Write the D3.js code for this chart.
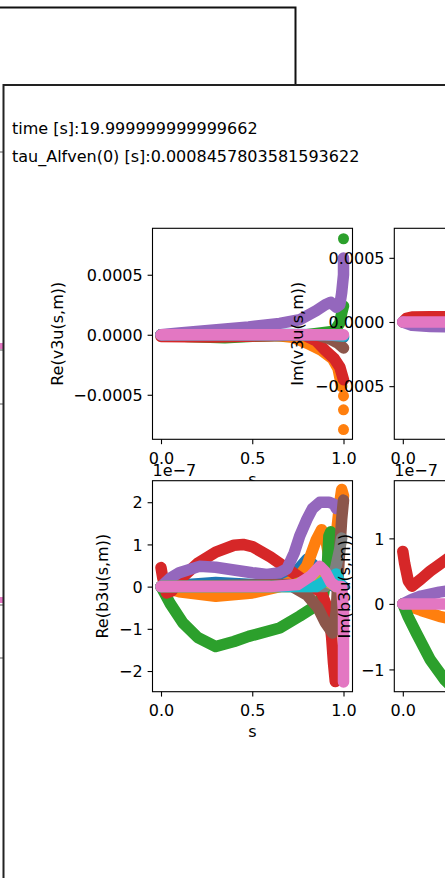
<!DOCTYPE html>
<html lang="en">
<head>
<meta charset="UTF-8">
<title>v3u / b3u mode profiles</title>
<style>
  body { margin: 0; background: #fff; overflow: hidden; }
  svg text { font-family: "DejaVu Sans", sans-serif; font-size: 16px; fill: #000; }
</style>
</head>
<body>
<div id="chart"></div>
<script src="https://d3js.org/d3.v7.min.js"></script>
<script>
// header lines of the figure
var timeText = "time [s]:19.999999999999662";
var tauText = "tau_Alfven(0) [s]:0.0008457803581593622";

// tick values
var sTicks = [0, 0.5, 1];
var v3uTicks = [-0.0005, 0, 0.0005];
var reB3uTicks = [-2, -1, 0, 1, 2];
var imB3uTicks = [-1, 0, 1];

// Re(v3u(s,m)), values in units of 1e-4 ; m = mode index (tab10 colour)
var reV3u = [
  {m: 0, pts: [[0, 0], [0.5, 0.05], [0.9, 0], [1, -0.2]]},
  {m: 1, pts: [[0, 0], [0.6, 0], [0.72, -0.2], [0.8, -0.7], [0.88, -1.3], [0.94, -2.0], [0.97, -2.8], [0.99, -4.3]],
         tail: [[1, -5.1], [1, -6.25], [1, -7.9]]},
  {m: 2, pts: [[0, 0], [0.15, -0.15], [0.35, -0.25], [0.5, -0.12], [0.8, 0], [0.95, 0.3], [0.98, 1.0], [0.99, 1.8], [1, 2.4]],
         tail: [[1, 8.0]]},
  {m: 3, pts: [[0, -0.15], [0.3, -0.18], [0.6, -0.08], [0.78, 0], [0.85, -0.5], [0.9, -1.3], [0.95, -2.0], [0.98, -2.7], [1, -3.75]]},
  {m: 4, pts: [[0, 0], [0.1, 0.15], [0.21, 0.3], [0.48, 0.65], [0.65, 0.95], [0.76, 1.25], [0.85, 2.0], [0.9, 2.5], [0.93, 2.7],
               [0.96, 2.3], [0.98, 2.5], [0.99, 3.5], [1, 5.0], [1, 6.4]]},
  {m: 5, pts: [[0, 0], [0.85, 0], [0.92, -0.3], [0.97, -0.7], [1, -1.1]]},
  {m: 9, pts: [[0, 0], [0.9, 0], [1, -0.1]]},
  {m: 6, pts: [[0, 0], [0.5, 0], [1, 0]]}
];

// Im(v3u(s,m)), units of 1e-4 (only the left part is on screen)
var imV3u = [
  {m: 3, pts: [[0, 0], [0.02, 0.28], [0.05, 0.38], [0.15, 0.4], [0.3, 0.42]]},
  {m: 4, pts: [[0, 0], [0.05, -0.25], [0.15, -0.35], [0.3, -0.4]]},
  {m: 6, pts: [[0, 0], [0.3, 0]]}
];

// Re(b3u(s,m)), units of 1e-7
var reB3u = [
  {m: 0, pts: [[0, 0], [0.15, 0.05], [0.3, 0.1], [0.5, 0.05], [0.65, 0.1], [0.74, 0.35], [0.8, 0.65], [0.84, 0.5], [0.9, 0.1], [0.95, 0], [1, 0]]},
  {m: 1, pts: [[0, 0], [0.1, -0.12], [0.3, -0.23], [0.5, -0.15], [0.65, 0], [0.75, 0.2], [0.8, 0.5], [0.85, 1.1], [0.88, 1.35],
               [0.9, 1.2], [0.92, 0.7], [0.94, 0.6], [0.96, 1.2], [0.98, 2.0], [0.99, 2.3], [1, 2.15]]},
  {m: 2, pts: [[0, 0], [0.05, -0.4], [0.12, -0.86], [0.2, -1.2], [0.3, -1.42], [0.4, -1.3], [0.48, -1.18], [0.65, -0.98],
               [0.76, -0.7], [0.85, -0.45], [0.89, -0.2], [0.91, 0.4], [0.92, 1.2], [0.93, 1.3], [0.95, 0.6]]},
  {m: 3, pts: [[0, 0.45], [0.01, 0.2], [0.03, -0.15], [0.06, -0.1], [0.1, 0.15], [0.2, 0.55], [0.3, 0.82], [0.4, 0.98], [0.45, 1.0],
               [0.5, 0.95], [0.6, 0.7], [0.7, 0.4], [0.8, 0.1], [0.88, -0.15], [0.92, -0.6], [0.935, -1.2], [0.945, -1.8], [0.955, -2.25]]},
  {m: 4, pts: [[0, 0], [0.05, 0.2], [0.1, 0.33], [0.21, 0.48], [0.3, 0.46], [0.39, 0.4], [0.5, 0.33], [0.58, 0.29], [0.65, 0.33],
               [0.69, 0.42], [0.73, 0.8], [0.76, 1.2], [0.8, 1.6], [0.83, 1.85], [0.87, 2.0], [0.92, 2.0], [0.95, 1.95], [0.96, 1.85]]},
  {m: 5, pts: [[0, 0], [0.7, 0.05], [0.8, -0.2], [0.86, -0.5], [0.9, -0.85], [0.94, -1.1], [0.96, -0.6], [0.97, 0.2],
               [0.98, 0.9], [0.99, 1.6], [1, 2.05]]},
  {m: 7, pts: [[0, 0], [0.9, 0], [0.95, 0.3], [0.98, 0.9], [0.99, 1.15]]},
  {m: 8, pts: [[0, 0], [0.7, 0], [0.8, 0.15], [0.88, 0.25], [0.92, 0.1], [0.96, 0]]},
  {m: 9, pts: [[0, 0], [0.85, 0], [0.92, 0.2], [0.96, 0.3], [0.98, 0.1]]},
  {m: 6, pts: [[0, 0], [0.6, 0], [0.75, 0.05], [0.82, 0.25], [0.87, 0.48], [0.9, 0.35], [0.93, 0.1], [0.96, 0], [0.99, 0],
               [1, -0.6], [1, -1.5], [1, -2.26]]}
];

// Im(b3u(s,m)), units of 1e-7 (only the left part is on screen)
var imB3u = [
  {m: 1, pts: [[0, 0], [0.1, -0.1], [0.2, -0.19], [0.3, -0.25]]},
  {m: 2, pts: [[0, 0], [0.03, -0.2], [0.075, -0.45], [0.15, -0.85], [0.23, -1.16], [0.3, -1.35]]},
  {m: 3, pts: [[0, 0.8], [0.01, 0.62], [0.03, 0.35], [0.05, 0.27], [0.1, 0.38], [0.15, 0.5], [0.2, 0.6], [0.3, 0.8]]},
  {m: 4, pts: [[0, 0], [0.05, 0.07], [0.1, 0.12], [0.2, 0.18], [0.3, 0.22]]},
  {m: 6, pts: [[0, 0], [0.3, 0]]}
];

var colors = d3.schemeCategory10;
var W = 445, H = 878;

var svg = d3.select("#chart").append("svg")
    .attr("width", W).attr("height", H);

// ---- window behind (mostly hidden) ----
var back = svg.append("g");
back.append("path").attr("d", "M0,7.5 H295.5 V86").attr("fill", "none")
    .attr("stroke", "#111").attr("stroke-width", 2);
back.append("rect").attr("x", 0).attr("y", 343).attr("width", 3).attr("height", 6).attr("fill", "#e377c2");
back.append("rect").attr("x", 0).attr("y", 597).attr("width", 3).attr("height", 6).attr("fill", "#e377c2");
[152, 350, 404, 605, 658].forEach(function(yy) {
    back.append("line").attr("x1", 0).attr("x2", 3).attr("y1", yy).attr("y2", yy)
        .attr("stroke", "#555").attr("stroke-width", 1);
});

// ---- front window ----
svg.append("rect").attr("x", 3.5).attr("y", 85).attr("width", W).attr("height", H)
    .attr("fill", "#fff").attr("stroke", "#222").attr("stroke-width", 2);

svg.append("text").attr("x", 12).attr("y", 134).text(timeText);
svg.append("text").attr("x", 12).attr("y", 162).text(tauText);

var sDomain = [-0.0466, 1.0493];

var panels = [
    {id: "p1", data: reV3u, unit: 1e-4, x: 152.5, y: 228.3, w: 200, h: 211,
     yDomain: [-0.000871, 0.000887], ticks: v3uTicks, fmt: d3.format(".4f"),
     ylabel: "Re(v3u(s,m))", ylx: 63, offset: null},
    {id: "p2", data: imV3u, unit: 1e-4, x: 394.3, y: 228.3, w: 200, h: 211,
     yDomain: [-0.000914, 0.00073], ticks: v3uTicks, fmt: d3.format(".4f"),
     ylabel: "Im(v3u(s,m))", ylx: 303, offset: null},
    {id: "p3", data: reB3u, unit: 1, x: 152.5, y: 480.7, w: 200, h: 211,
     yDomain: [-2.49, 2.51], ticks: reB3uTicks, fmt: d3.format("d"),
     ylabel: "Re(b3u(s,m))", ylx: 108, offset: "1e\u22127"},
    {id: "p4", data: imB3u, unit: 1, x: 394.3, y: 480.7, w: 200, h: 211,
     yDomain: [-1.34, 1.88], ticks: imB3uTicks, fmt: d3.format("d"),
     ylabel: "Im(b3u(s,m))", ylx: 350, offset: "1e\u22127"}
];

var defs = svg.append("defs");

panels.forEach(function(p) {
    var g = svg.append("g");
    var x = d3.scaleLinear().domain(sDomain).range([p.x, p.x + p.w]);
    var y = d3.scaleLinear().domain(p.yDomain).range([p.y + p.h, p.y]);

    // axes background
    g.append("rect").attr("x", p.x).attr("y", p.y).attr("width", p.w).attr("height", p.h).attr("fill", "#fff");

    defs.append("clipPath").attr("id", "clip-" + p.id)
        .append("rect").attr("x", p.x).attr("y", p.y).attr("width", p.w).attr("height", p.h);

    var plot = g.append("g").attr("clip-path", "url(#clip-" + p.id + ")");
    var line = d3.line()
        .x(function(d) { return x(d[0]); })
        .y(function(d) { return y(d[1] * p.unit); });

    // dense scatter markers look like a thick band
    p.data.forEach(function(sr) {
        var c = colors[sr.m];
        plot.append("path").datum(sr.pts)
            .attr("d", line)
            .attr("fill", "none")
            .attr("stroke", c)
            .attr("stroke-width", 11.5)
            .attr("stroke-linecap", "round")
            .attr("stroke-linejoin", "round");
        plot.selectAll(null).data(sr.tail || []).enter().append("circle")
            .attr("cx", function(d) { return x(d[0]); })
            .attr("cy", function(d) { return y(d[1] * p.unit); })
            .attr("r", 5.5)
            .attr("fill", c);
    });

    // spines
    g.append("rect").attr("x", p.x).attr("y", p.y).attr("width", p.w).attr("height", p.h)
        .attr("fill", "none").attr("stroke", "#000").attr("stroke-width", 1.1);

    var yAxis = g.append("g").attr("transform", "translate(" + p.x + ",0)")
        .call(d3.axisLeft(y).tickValues(p.ticks).tickFormat(p.fmt).tickSize(4.9).tickPadding(4.9));
    var xAxis = g.append("g").attr("transform", "translate(0," + (p.y + p.h) + ")")
        .call(d3.axisBottom(x).tickValues(sTicks).tickFormat(d3.format(".1f")).tickSize(4.9).tickPadding(4.9));
    [yAxis, xAxis].forEach(function(a) {
        a.select(".domain").remove();
        a.selectAll(".tick line").attr("stroke", "#000").attr("stroke-width", 1.1);
    });
    xAxis.selectAll(".tick text").attr("y", 8.5).attr("dy", "1.0em");
    yAxis.selectAll(".tick text").attr("dy", "0.36em");

    g.append("text")
        .attr("transform", "translate(" + p.ylx + "," + (p.y + p.h / 2) + ") rotate(-90)")
        .attr("text-anchor", "middle")
        .text(p.ylabel);

    g.append("text")
        .attr("x", p.x + p.w / 2).attr("y", p.y + p.h + 45.5)
        .attr("text-anchor", "middle")
        .text("s");

    if (p.offset) {
        g.append("text").attr("x", p.x).attr("y", p.y - 4.5).text(p.offset);
    }
});
</script>
</body>
</html>
